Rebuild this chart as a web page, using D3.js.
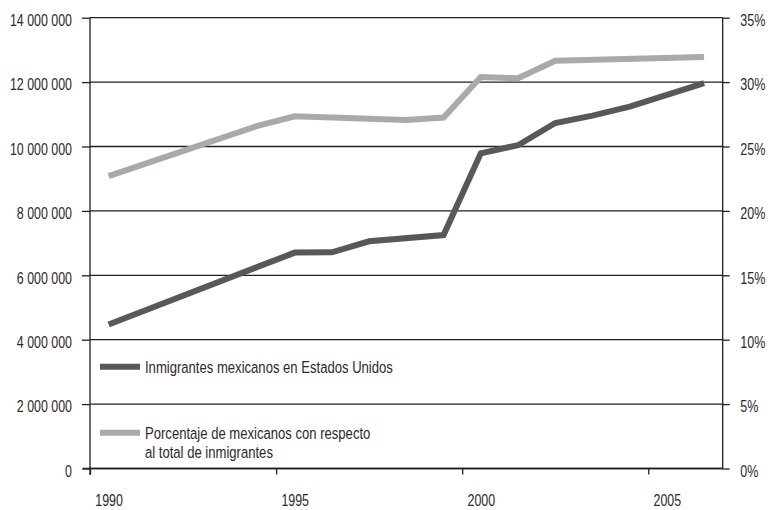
<!DOCTYPE html>
<html>
<head>
<meta charset="utf-8">
<script src="https://cdn.jsdelivr.net/npm/d3@7"></script>
<style>
  html, body { margin: 0; padding: 0; background: #fff; }
  svg text { font-family: "Liberation Sans", Arial, sans-serif; fill: #2b2a2a; }
</style>
</head>
<body>
<svg id="chart" width="768" height="510"></svg>
<script>
// Mexican immigrants in the United States (persons) by year
const immigrantYears = [1990, 1995, 1996, 1997, 1999, 2000, 2001, 2002, 2003, 2004, 2006];
const immigrantValues = [4470000, 6705000, 6715000, 7056000, 7250000, 9790000, 10040000, 10730000, 10960000, 11240000, 11970000];

// Share of Mexicans in the total immigrant population (%)
const shareYears = [1990, 1994, 1995, 1998, 1999, 2000, 2001, 2002, 2006];
const shareValues = [22.7, 26.6, 27.35, 27.05, 27.25, 30.4, 30.3, 31.65, 31.95];

const leftTicks = [0, 2000000, 4000000, 6000000, 8000000, 10000000, 12000000, 14000000];
const rightTicks = [0, 5, 10, 15, 20, 25, 30, 35];
const yearTicks = [1990, 1995, 2000, 2005];

const legendLabels = [
  ["Inmigrantes mexicanos en Estados Unidos"],
  ["Porcentaje de mexicanos con respecto", "al total de inmigrantes"]
];

const darkGrey = "#58585a";
const lightGrey = "#a8a9ab";
const ink = "#231f20";
const fontSize = 17;

const plot = { left: 90, right: 722.7, top: 17.7, bottom: 468.5 };

const svg = d3.select("#chart");

// one band per year; points sit in the middle of each band
const x = d3.scaleLinear().domain([1989.5, 2006.5]).range([plot.left, plot.right]);
const yLeft = d3.scaleLinear().domain([0, 14000000]).range([plot.bottom, plot.top]);
const yRight = d3.scaleLinear().domain([0, 35]).range([plot.bottom, plot.top]);

const spaced = d3.formatLocale({ decimal: ",", thousands: " ", grouping: [3], currency: ["", ""] }).format(",d");

// squeeze a text node horizontally (about its parent's origin) for a condensed look
function condense(node, factor) {
  const px = parseFloat(node.getAttribute("x") || 0);
  const pdx = parseFloat(node.getAttribute("dx") || 0);
  node.setAttribute("x", (px / factor).toFixed(2));
  if (pdx) node.setAttribute("dx", (pdx / factor).toFixed(2));
  node.setAttribute("transform", `scale(${factor},1)`);
}

// horizontal gridlines
svg.append("g")
  .selectAll("line")
  .data(leftTicks)
  .join("line")
  .attr("x1", plot.left)
  .attr("x2", plot.right)
  .attr("y1", d => yLeft(d))
  .attr("y2", d => yLeft(d))
  .attr("stroke", ink)
  .attr("stroke-width", 1.3);

// left axis
const gLeft = svg.append("g")
  .attr("transform", `translate(${plot.left},0)`)
  .call(d3.axisLeft(yLeft).tickValues(leftTicks).tickSize(8).tickPadding(10).tickFormat(spaced));
gLeft.select(".domain").remove();
gLeft.append("line")
  .attr("y1", plot.top).attr("y2", plot.bottom + 6.5)
  .attr("stroke", ink).attr("stroke-width", 1.3);

// right axis
const gRight = svg.append("g")
  .attr("transform", `translate(${plot.right},0)`)
  .call(d3.axisRight(yRight).tickValues(rightTicks).tickSize(7).tickPadding(10.5).tickFormat(d => d + "%"));
gRight.select(".domain").remove();
gRight.append("line")
  .attr("y1", plot.top).attr("y2", plot.bottom)
  .attr("stroke", ink).attr("stroke-width", 1.3);

// bottom axis: ticks on band edges, labels centred on the year
const gBottom = svg.append("g")
  .attr("transform", `translate(0,${plot.bottom})`)
  .call(d3.axisBottom(x).tickValues(yearTicks.map(d => d - 0.5)).tickSize(6).tickPadding(19.5).tickFormat(d => String(d + 0.5)));
gBottom.select(".domain").remove();
gBottom.append("line")
  .attr("x1", plot.left - 7).attr("x2", plot.right)
  .attr("stroke", ink).attr("stroke-width", 1.3);
gBottom.selectAll(".tick text").attr("dx", x(1990) - x(1989.5));

[[gLeft, 0.73, "0.46em"], [gRight, 0.74, "0.46em"], [gBottom, 0.73, null]].forEach(([g, factor, dy]) => {
  g.selectAll(".tick line").attr("stroke", ink).attr("stroke-width", 1.3);
  const t = g.selectAll(".tick text")
    .attr("font-size", fontSize)
    .attr("fill", "#2b2a2a")
    .attr("font-family", "'Liberation Sans', Arial, sans-serif");
  if (dy) t.attr("dy", dy);
  t.each(function () { condense(this, factor); });
});

// series lines
const immigrantLine = d3.line().x(d => x(d[0])).y(d => yLeft(d[1]));
const shareLine = d3.line().x(d => x(d[0])).y(d => yRight(d[1]));

svg.append("path")
  .datum(d3.zip(shareYears, shareValues))
  .attr("d", shareLine)
  .attr("fill", "none")
  .attr("stroke", lightGrey)
  .attr("stroke-width", 6)
  .attr("stroke-linejoin", "miter");

svg.append("path")
  .datum(d3.zip(immigrantYears, immigrantValues))
  .attr("d", immigrantLine)
  .attr("fill", "none")
  .attr("stroke", darkGrey)
  .attr("stroke-width", 6)
  .attr("stroke-linejoin", "miter");

// legend
const legend = svg.append("g").attr("transform", "translate(100,0)");
const legendRows = [
  { y: 366.7, color: darkGrey, lines: legendLabels[0] },
  { y: 432.7, color: lightGrey, lines: legendLabels[1] }
];
legendRows.forEach(row => {
  legend.append("line")
    .attr("x1", 0).attr("x2", 40)
    .attr("y1", row.y).attr("y2", row.y)
    .attr("stroke", row.color).attr("stroke-width", 6);
  row.lines.forEach((l, i) => {
    legend.append("text")
      .attr("x", 45)
      .attr("y", row.y + 6 + i * 19.3)
      .attr("font-size", fontSize)
      .text(l)
      .each(function () { condense(this, 0.77); });
  });
});
</script>
</body>
</html>
